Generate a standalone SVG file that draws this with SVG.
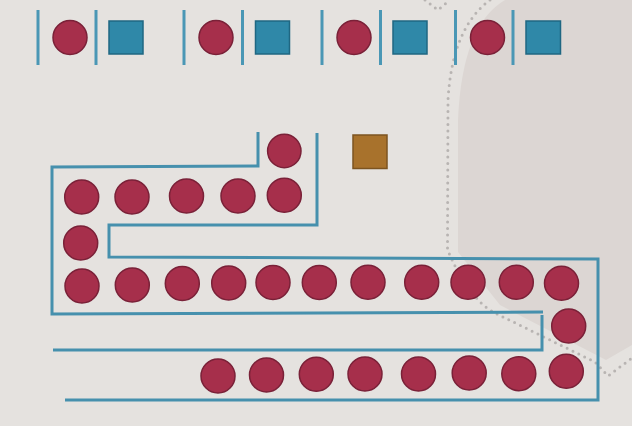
<svg xmlns="http://www.w3.org/2000/svg" width="632" height="426" viewBox="0 0 632 426">
<defs>
<style>
.bg{fill:#e5e2df}
.shade{fill:#dcd6d3}
.dots{fill:none;stroke:#b8b4b2;stroke-width:3;stroke-dasharray:0 6.5;stroke-linecap:round;stroke-linejoin:round}
.wall{fill:none;stroke:#4690ad;stroke-width:3;stroke-linecap:butt;stroke-linejoin:miter}
.bar{stroke:#4a97b5;stroke-width:3}
.ball{fill:#a62f4b;stroke:#7a2138;stroke-width:1.5}
.blue{fill:#2f88a8;stroke:#1f6782;stroke-width:1.5}
.gold{fill:#a8722c;stroke:#7c5420;stroke-width:1.5}
</style>
</defs>
<rect class="bg" x="0" y="0" width="632" height="426"/>
<path class="shade" d="M505,0 Q462,25 458,120 L458,252 L500,305 L606,360 L632,345 L632,0 Z"/>
<path class="dots" d="M425,0 L438,10 L450,0"/>
<path class="dots" d="M490,0 Q452,28 448,100 L447.5,250 L455,266 L478,300 Q487,309 497,314 L595,362 L608,376 L632,358"/>

<g id="connectors">
<path class="wall" d="M258,132 L258,166 L52,167 L52,314 L543,312"/>
<path class="wall" d="M317,133 L317,225 L109,225 L109,257 L598,259 L598,400 L65,400"/>
<path class="wall" d="M542,315 L542,350 L53,350"/>
</g>

<g id="top-group-1">
<line class="bar" x1="38" y1="10" x2="38" y2="65"/>
<line class="bar" x1="96" y1="10" x2="96" y2="65"/>
<circle class="ball" cx="70" cy="37.5" r="17"/>
<rect class="blue" x="109" y="21" width="34" height="33"/>
</g>
<g id="top-group-2">
<line class="bar" x1="184" y1="10" x2="184" y2="65"/>
<line class="bar" x1="242.5" y1="10" x2="242.5" y2="65"/>
<circle class="ball" cx="216" cy="37.5" r="17"/>
<rect class="blue" x="255.5" y="21" width="34" height="33"/>
</g>
<g id="top-group-3">
<line class="bar" x1="322" y1="10" x2="322" y2="65"/>
<line class="bar" x1="380.5" y1="10" x2="380.5" y2="65"/>
<circle class="ball" cx="354" cy="37.5" r="17"/>
<rect class="blue" x="393" y="21" width="34" height="33"/>
</g>
<g id="top-group-4">
<line class="bar" x1="455.5" y1="10" x2="455.5" y2="65"/>
<line class="bar" x1="513" y1="10" x2="513" y2="65"/>
<circle class="ball" cx="487.5" cy="37.5" r="17"/>
<rect class="blue" x="526" y="21" width="34.5" height="33"/>
</g>

<g id="gold-square">
<rect class="gold" x="353" y="135" width="34" height="33.5"/>
</g>

<g id="balls">
<circle class="ball" cx="284.3" cy="151" r="16.7"/>
<circle class="ball" cx="81.7" cy="197" r="17"/>
<circle class="ball" cx="132" cy="197" r="17"/>
<circle class="ball" cx="186.5" cy="196" r="17"/>
<circle class="ball" cx="238" cy="196" r="17"/>
<circle class="ball" cx="284.3" cy="195.3" r="17"/>
<circle class="ball" cx="80.7" cy="243" r="17"/>
<circle class="ball" cx="82" cy="286" r="17"/>
<circle class="ball" cx="132.3" cy="285" r="17"/>
<circle class="ball" cx="182.3" cy="283.5" r="17"/>
<circle class="ball" cx="228.7" cy="283" r="17"/>
<circle class="ball" cx="273" cy="282.5" r="17"/>
<circle class="ball" cx="319.3" cy="282.5" r="17"/>
<circle class="ball" cx="368" cy="282.3" r="17"/>
<circle class="ball" cx="421.7" cy="282.3" r="17"/>
<circle class="ball" cx="468" cy="282.3" r="17"/>
<circle class="ball" cx="516.3" cy="282.3" r="17"/>
<circle class="ball" cx="561.5" cy="283.3" r="17"/>
<circle class="ball" cx="568.7" cy="326" r="17"/>
<circle class="ball" cx="218" cy="376" r="17"/>
<circle class="ball" cx="266.5" cy="375" r="17"/>
<circle class="ball" cx="316.3" cy="374.3" r="17"/>
<circle class="ball" cx="365" cy="374" r="17"/>
<circle class="ball" cx="418.5" cy="374" r="17"/>
<circle class="ball" cx="469.2" cy="373" r="17"/>
<circle class="ball" cx="518.8" cy="373.7" r="17"/>
<circle class="ball" cx="566.3" cy="371.3" r="17"/>
</g>
</svg>
